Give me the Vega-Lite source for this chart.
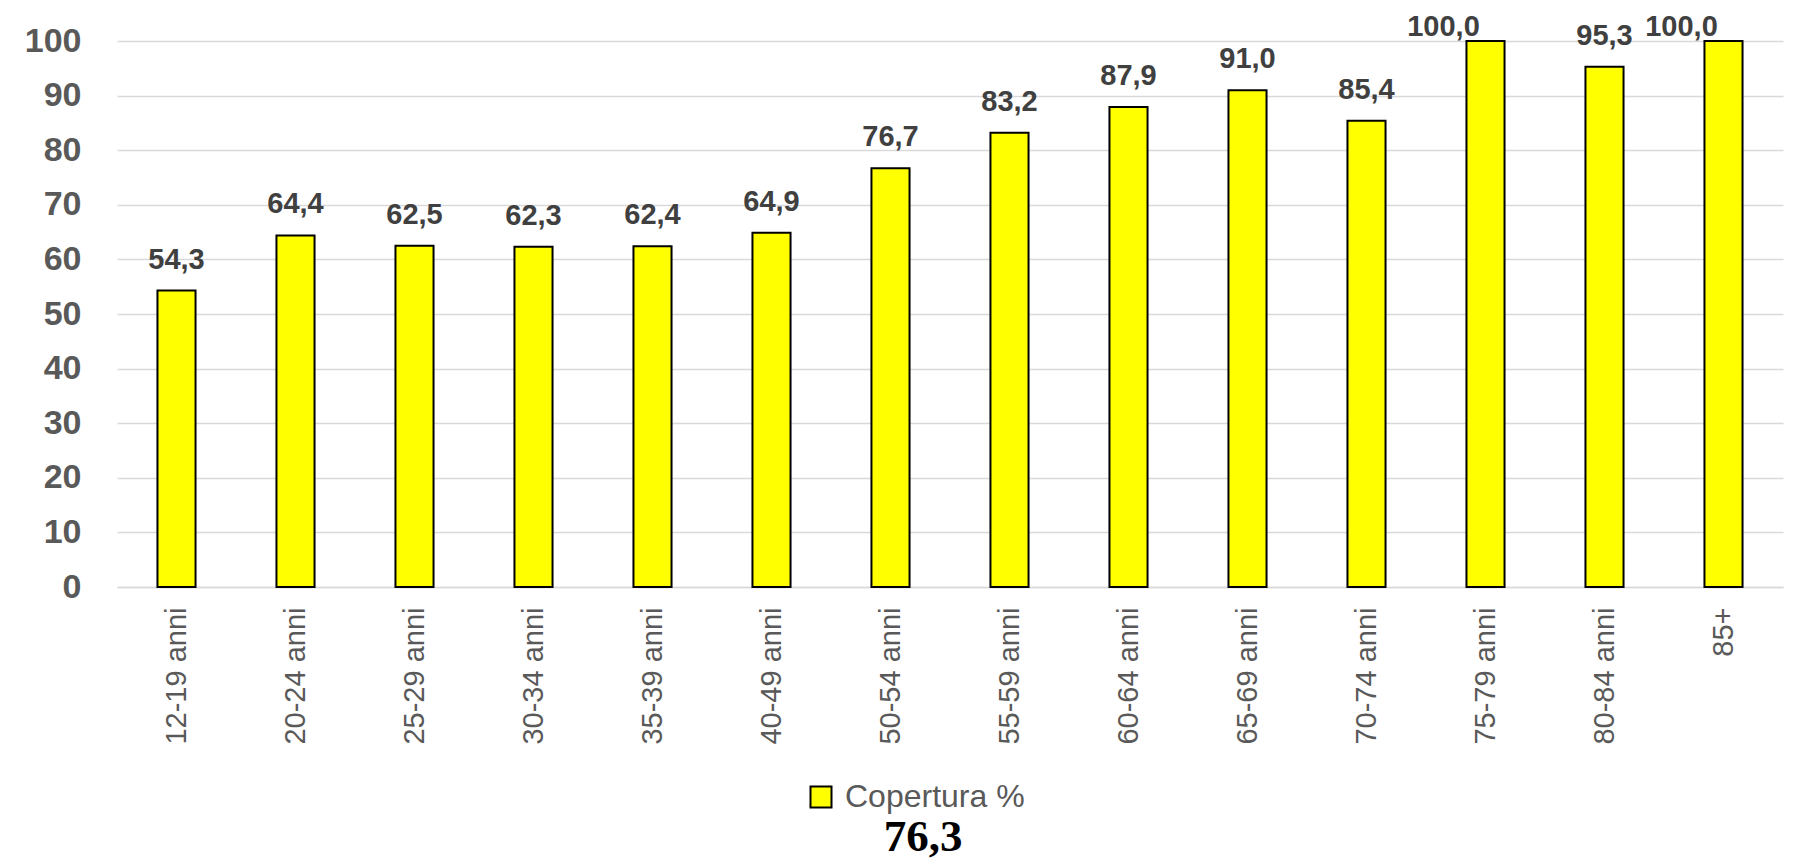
{
  "$schema": "https://vega.github.io/schema/vega-lite/v6.json",
  "autosize": {"type": "none"},
  "width": 1666,
  "height": 546,
  "padding": {"left": 117, "top": 41, "right": 30, "bottom": 278},
  "background": "white",
  "config": {
    "view": {"stroke": null},
    "locale": {"number": {"decimal": ",", "thousands": ".", "grouping": [3], "currency": ["€", ""]}},
    "font": "Liberation Sans"
  },
  "title": {
    "text": "76,3",
    "orient": "bottom",
    "anchor": "middle",
    "font": "Liberation Serif",
    "fontWeight": "bold",
    "fontSize": 45,
    "color": "#000000",
    "dx": -27,
    "offset": 2
  },
  "data": {
    "values": [
      {"eta": "12-19 anni", "copertura": 54.3, "serie": "Copertura %"},
      {"eta": "20-24 anni", "copertura": 64.4, "serie": "Copertura %"},
      {"eta": "25-29 anni", "copertura": 62.5, "serie": "Copertura %"},
      {"eta": "30-34 anni", "copertura": 62.3, "serie": "Copertura %"},
      {"eta": "35-39 anni", "copertura": 62.4, "serie": "Copertura %"},
      {"eta": "40-49 anni", "copertura": 64.9, "serie": "Copertura %"},
      {"eta": "50-54 anni", "copertura": 76.7, "serie": "Copertura %"},
      {"eta": "55-59 anni", "copertura": 83.2, "serie": "Copertura %"},
      {"eta": "60-64 anni", "copertura": 87.9, "serie": "Copertura %"},
      {"eta": "65-69 anni", "copertura": 91.0, "serie": "Copertura %"},
      {"eta": "70-74 anni", "copertura": 85.4, "serie": "Copertura %"},
      {"eta": "75-79 anni", "copertura": 100.0, "serie": "Copertura %"},
      {"eta": "80-84 anni", "copertura": 95.3, "serie": "Copertura %"},
      {"eta": "85+", "copertura": 100.0, "serie": "Copertura %"}
    ]
  },
  "encoding": {
    "x": {
      "field": "eta",
      "type": "nominal",
      "sort": null,
      "scale": {"paddingInner": 0.68, "paddingOuter": 0.34},
      "axis": {
        "title": null,
        "labelAngle": 270,
        "labelFontSize": 29,
        "labelColor": "#595959",
        "labelPadding": 20,
        "ticks": false,
        "domain": true,
        "domainColor": "#d9d9d9",
        "domainWidth": 1.5,
        "grid": false
      }
    },
    "y": {
      "field": "copertura",
      "type": "quantitative",
      "scale": {"domain": [0, 100], "nice": false},
      "axis": {
        "title": null,
        "values": [0, 10, 20, 30, 40, 50, 60, 70, 80, 90, 100],
        "labelFontSize": 34,
        "labelFontWeight": "bold",
        "labelColor": "#595959",
        "labelPadding": 36,
        "ticks": false,
        "domain": false,
        "grid": true,
        "gridColor": "#d9d9d9",
        "gridWidth": 1.5
      }
    }
  },
  "layer": [
    {
      "mark": {"type": "bar", "stroke": "#000000", "strokeWidth": 2},
      "encoding": {
        "color": {
          "field": "serie",
          "type": "nominal",
          "scale": {"domain": ["Copertura %"], "range": ["#ffff00"]},
          "legend": {
            "title": null,
            "orient": "none",
            "legendX": 688,
            "legendY": 740,
            "symbolType": "square",
            "symbolSize": 441,
            "symbolStrokeColor": "#000000",
            "symbolStrokeWidth": 2,
            "symbolFillColor": "#ffff00",
            "labelFontSize": 32,
            "labelColor": "#595959",
            "labelOffset": 8,
            "labelLimit": 0
          }
        }
      }
    },
    {
      "transform": [{"filter": "datum.copertura < 99"}],
      "mark": {
        "type": "text",
        "baseline": "alphabetic",
        "align": "center",
        "dy": -22,
        "fontSize": 29,
        "fontWeight": "bold",
        "color": "#404040"
      },
      "encoding": {
        "text": {"field": "copertura", "type": "quantitative", "format": ".1f"}
      }
    },
    {
      "transform": [{"filter": "datum.copertura >= 99"}],
      "mark": {
        "type": "text",
        "baseline": "alphabetic",
        "align": "center",
        "dx": -42,
        "dy": -5,
        "fontSize": 29,
        "fontWeight": "bold",
        "color": "#404040"
      },
      "encoding": {
        "text": {"field": "copertura", "type": "quantitative", "format": ".1f"}
      }
    }
  ]
}
